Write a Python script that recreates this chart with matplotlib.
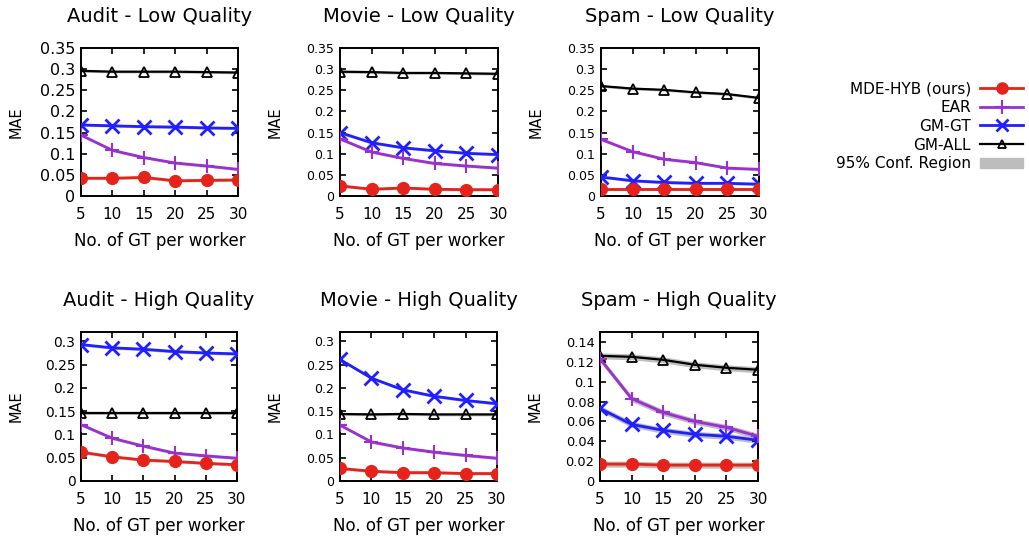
import matplotlib.pyplot as plt
from matplotlib.lines import Line2D
from matplotlib.patches import Patch

# x values: number of GT per worker
gt = [5, 10, 15, 20, 25, 30]

# MAE values per panel
audit_low = {
    "mde": [0.042, 0.042, 0.044, 0.036, 0.037, 0.038],
    "ear": [0.144, 0.108, 0.091, 0.078, 0.071, 0.063],
    "gmgt": [0.168, 0.166, 0.164, 0.163, 0.161, 0.160],
    "gmall": [0.296, 0.294, 0.294, 0.294, 0.293, 0.292],
}
movie_low = {
    "mde": [0.024, 0.016, 0.019, 0.016, 0.015, 0.015],
    "ear": [0.135, 0.104, 0.089, 0.077, 0.071, 0.066],
    "gmgt": [0.150, 0.126, 0.114, 0.107, 0.101, 0.098],
    "gmall": [0.294, 0.293, 0.291, 0.291, 0.290, 0.289],
}
spam_low = {
    "mde": [0.016, 0.016, 0.016, 0.016, 0.016, 0.016],
    "ear": [0.134, 0.105, 0.087, 0.079, 0.066, 0.063],
    "gmgt": [0.045, 0.036, 0.032, 0.030, 0.030, 0.028],
    "gmall": [0.260, 0.254, 0.251, 0.245, 0.241, 0.232],
}
audit_high = {
    "mde": [0.062, 0.052, 0.045, 0.042, 0.038, 0.035],
    "ear": [0.121, 0.092, 0.075, 0.060, 0.054, 0.049],
    "gmgt": [0.293, 0.286, 0.283, 0.278, 0.275, 0.273],
    "gmall": [0.145, 0.145, 0.145, 0.145, 0.145, 0.145],
}
movie_high = {
    "mde": [0.027, 0.021, 0.018, 0.018, 0.016, 0.016],
    "ear": [0.120, 0.084, 0.071, 0.062, 0.055, 0.049],
    "gmgt": [0.261, 0.221, 0.196, 0.182, 0.173, 0.166],
    "gmall": [0.144, 0.143, 0.144, 0.143, 0.143, 0.143],
}
spam_high = {
    "mde": [0.017, 0.017, 0.016, 0.016, 0.016, 0.016],
    "ear": [0.123, 0.083, 0.069, 0.060, 0.054, 0.045],
    "gmgt": [0.073, 0.057, 0.051, 0.047, 0.045, 0.041],
    "gmall": [0.126, 0.125, 0.122, 0.117, 0.114, 0.112],
}

# half width of the 95% confidence band (roughly constant in the picture)
ci_half = 0.003

titles = ["Audit - Low Quality", "Movie - Low Quality", "Spam - Low Quality",
          "Audit - High Quality", "Movie - High Quality", "Spam - High Quality"]
panels = [audit_low, movie_low, spam_low, audit_high, movie_high, spam_high]
ymaxs = [0.35, 0.35, 0.35, 0.32, 0.32, 0.15]
ytick_sets = [
    [0, 0.05, 0.1, 0.15, 0.2, 0.25, 0.3, 0.35],
    [0, 0.05, 0.1, 0.15, 0.2, 0.25, 0.3, 0.35],
    [0, 0.05, 0.1, 0.15, 0.2, 0.25, 0.3, 0.35],
    [0, 0.05, 0.1, 0.15, 0.2, 0.25, 0.3],
    [0, 0.05, 0.1, 0.15, 0.2, 0.25, 0.3],
    [0, 0.02, 0.04, 0.06, 0.08, 0.1, 0.12, 0.14],
]
ytick_labels = [
    ["0", "0.05", "0.1", "0.15", "0.2", "0.25", "0.3", "0.35"],
    ["0", "0.05", "0.1", "0.15", "0.2", "0.25", "0.3", "0.35"],
    ["0", "0.05", "0.1", "0.15", "0.2", "0.25", "0.3", "0.35"],
    ["0", "0.05", "0.1", "0.15", "0.2", "0.25", "0.3"],
    ["0", "0.05", "0.1", "0.15", "0.2", "0.25", "0.3"],
    ["0", "0.02", "0.04", "0.06", "0.08", "0.1", "0.12", "0.14"],
]
ytick_fs = [11.5, 9, 9, 10, 9, 9.3]

# axes boxes in pixels (left, top, right, bottom)
W, H = 1029, 538
boxes = [(81, 48, 238, 196), (340, 48, 498, 196), (601, 48, 759, 196),
         (81, 332, 237, 481), (340, 332, 497, 481), (600, 332, 758, 481)]

colors = {"mde": "#e5231b", "ear": "#9b30d0", "gmgt": "#1f1fff", "gmall": "black"}
band_col = "#bdbdbd"

plt.rcParams['font.family'] = ['DejaVu Sans']
fig = plt.figure(figsize=(W / 100, H / 100), dpi=100)

for i, data in enumerate(panels):
    l, t, r, b = boxes[i]
    ax = fig.add_axes([l / W, 1 - b / H, (r - l) / W, (b - t) / H])
    for key in ["gmall", "gmgt", "ear", "mde"]:
        vals = data[key]
        ax.fill_between(gt, [v - ci_half for v in vals], [v + ci_half for v in vals],
                        color=band_col, lw=0, zorder=1)
    ax.plot(gt, data["gmall"], color=colors["gmall"], lw=1.6, marker="^", ms=7,
            mfc="none", mew=1.3, zorder=3)
    ax.plot(gt, data["gmgt"], color=colors["gmgt"], lw=2, marker="x", ms=10,
            mew=2, zorder=4)
    ax.plot(gt, data["ear"], color=colors["ear"], lw=2, marker="+", ms=10,
            mew=1.5, zorder=5)
    ax.plot(gt, data["mde"], color=colors["mde"], lw=2, marker="o", ms=8.5,
            zorder=6)
    ax.set_xlim(5, 30)
    ax.set_ylim(0, ymaxs[i])
    ax.set_xticks(gt)
    ax.set_xticklabels([str(g) for g in gt], fontsize=11)
    ax.set_yticks(ytick_sets[i])
    ax.set_yticklabels(ytick_labels[i], fontsize=ytick_fs[i])
    ax.tick_params(direction="in", length=4, width=1.2, top=True, right=True)
    ax.tick_params(axis="x", pad=8)
    ax.tick_params(axis="y", pad=4)
    for s in ax.spines.values():
        s.set_linewidth(1.4)
    ax.set_title(titles[i], fontsize=14, pad=19)
    ax.set_xlabel("No. of GT per worker", fontsize=12, labelpad=7)
    ax.set_ylabel("MAE", fontsize=10.5)
    ax.yaxis.set_label_coords(-57 / (r - l), 0.5)

handles = [
    Line2D([], [], color=colors["mde"], lw=2, marker="o", ms=8),
    Line2D([], [], color=colors["ear"], lw=2, marker="+", ms=10, mew=1.5),
    Line2D([], [], color=colors["gmgt"], lw=2, marker="x", ms=9, mew=2),
    Line2D([], [], color="black", lw=1.6, marker="^", ms=6, mfc="none", mew=1.3),
    Patch(color=band_col),
]
labels = ["MDE-HYB (ours)", "EAR", "GM-GT", "GM-ALL", "95% Conf. Region"]
fig.legend(handles, labels, loc="upper right", bbox_to_anchor=(1.0, 1 - 75 / H),
           frameon=False, markerfirst=False, fontsize=11, handlelength=2.8,
           labelspacing=0.25, handletextpad=0.6, borderaxespad=0)

fig.savefig("out.png", dpi=100)
